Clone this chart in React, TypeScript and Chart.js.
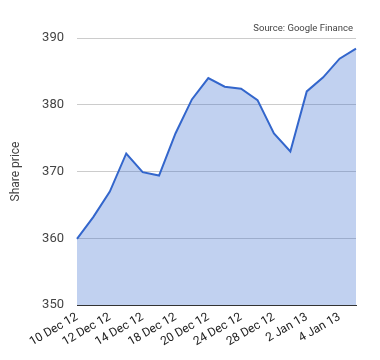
import React, { useEffect, useRef } from "react";
import { Chart, registerables } from "chart.js";

Chart.register(...registerables);

const categories = [
  "10 Dec 12", "11 Dec 12", "12 Dec 12", "13 Dec 12", "14 Dec 12", "17 Dec 12",
  "18 Dec 12", "19 Dec 12", "20 Dec 12", "21 Dec 12", "24 Dec 12", "27 Dec 12",
  "28 Dec 12", "31 Dec 12", "2 Jan 13", "3 Jan 13", "4 Jan 13", "7 Jan 13",
];
const sharePrice = [
  359.9, 363.2, 367.0, 372.7, 369.9, 369.4, 375.7, 380.8, 384.0,
  382.7, 382.4, 380.7, 375.7, 373.0, 382.0, 384.1, 386.9, 388.4,
];
const yTicks = [350, 360, 370, 380, 390];
const sourceText = "Source: Google Finance";
const yTitle = "Share price";

const FONT = "Roboto, 'Liberation Sans', Arial, sans-serif";

const sourcePlugin = {
  id: "sourceNote",
  afterDraw(chart: any) {
    const { ctx, chartArea } = chart;
    ctx.save();
    ctx.font = `9.5px ${FONT}`;
    ctx.fillStyle = "#444";
    ctx.textAlign = "right";
    ctx.textBaseline = "alphabetic";
    ctx.fillText(sourceText, chartArea.right - 3, chartArea.top - 7);
    ctx.restore();
  },
};

export default function App() {
  const ref = useRef<HTMLCanvasElement>(null);
  useEffect(() => {
    if (!ref.current) return;
    const chart = new Chart(ref.current, {
      type: "line",
      data: {
        labels: categories,
        datasets: [
          {
            data: sharePrice,
            borderColor: "#3366cc",
            backgroundColor: "rgba(51,102,204,0.3)",
            borderWidth: 2,
            fill: "start",
            pointRadius: 0,
            tension: 0,
          },
        ],
      },
      options: {
        animation: false,
        responsive: false,
        maintainAspectRatio: false,
        layout: { padding: { top: 38, right: 24, left: 0, bottom: 0 } },
        plugins: {
          legend: { display: false },
          tooltip: { enabled: false },
        },
        scales: {
          x: {
            offset: false,
            grid: { display: false, drawTicks: false },
            border: { display: true, color: "#333", width: 1 },
            ticks: {
              autoSkip: false,
              minRotation: 30,
              maxRotation: 30,
              padding: 5,
              color: "#222",
              font: { family: FONT, size: 12 },
              callback: (v: any, i: number) => (i % 2 === 0 ? categories[i] : ""),
            },
            afterFit: (s: any) => {
              s.height = 55;
            },
          },
          y: {
            min: 350,
            max: 390,
            afterBuildTicks: (s: any) => {
              s.ticks = yTicks.map((v) => ({ value: v }));
            },
            grid: {
              drawTicks: false,
              color: (c: any) => (c.tick && c.tick.value === 350 ? "#333" : "#ccc"),
            },
            border: { display: false },
            ticks: {
              padding: 13,
              color: "#444",
              font: { family: FONT, size: 13 },
            },
            title: {
              display: true,
              text: yTitle,
              color: "#444",
              font: { family: FONT, size: 12 },
              padding: { top: 9, bottom: 0 },
            },
            afterFit: (s: any) => {
              s.width = 77;
            },
          },
        },
      },
      plugins: [sourcePlugin],
    });
    return () => chart.destroy();
  }, []);
  return (
    <div style={{ position: "fixed", left: 0, top: 0, width: 380, height: 360, background: "#fff" }}>
      <canvas ref={ref} width={380} height={360} style={{ display: "block" }} />
    </div>
  );
}
